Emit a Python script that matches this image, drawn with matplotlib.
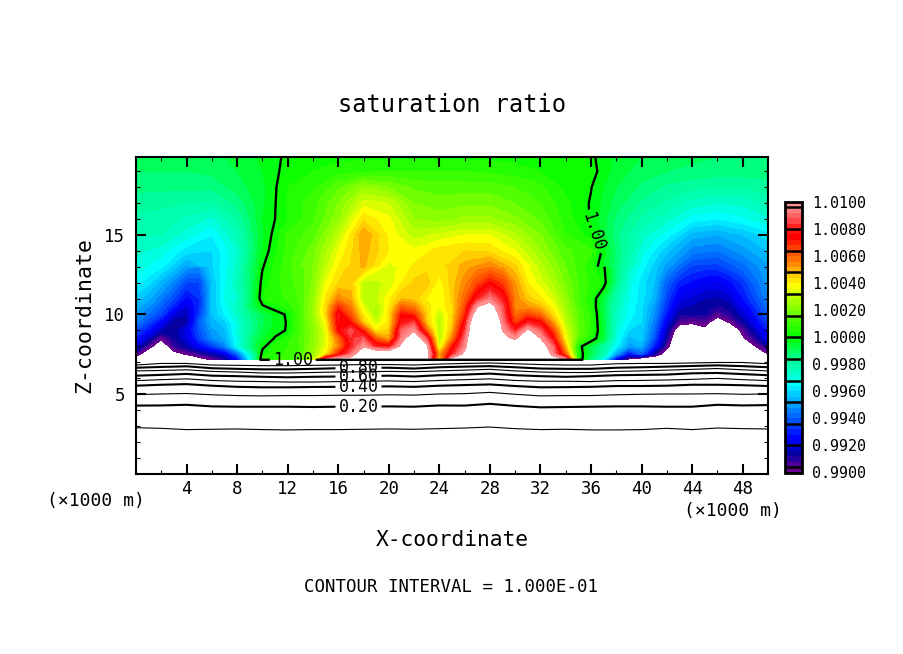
import matplotlib
matplotlib.use('Agg')
import matplotlib.pyplot as plt
from matplotlib.colors import LinearSegmentedColormap
import numpy as np

plt.rcParams['font.family'] = ['DejaVu Sans Mono', 'DejaVu Sans']

W, H = 904, 654

# saturation ratio deviation from 1, in units of 1e-3
# lower part of the domain, one column per km (x = 0..50)
x_low = np.arange(0, 51, 1)
z_low = [7.15, 7.5, 8, 8.5, 9, 9.5, 10, 10.5, 11, 12, 13]
row_7_15 = [-11, -12, -12, -12, -12, -10.5, -9.9, -9, -7.5, -3.5, .7, .8, 1, 1.5, 3, 9.5, 11, 11, 11, 11, 11, 11, 11, 11, 4, 11, 11, 11, 11, 11, 11, 11, 11, 11, 10, .7, -1.5, -3.5, -8, -10.5, -12, -12, -12, -12, -12, -12, -12, -12, -12, -12, -12]
row_7_5 = [-9.5, -11, -13, -10.5, -9.9, -9.3, -8.7, -8, -6, -3, .3, .6, .9, 1.3, 2.5, 4, 7, 9, 12, 12, 12, 12, 12, 11, 5, 8, 10.5, 13, 14, 14, 14, 14, 12, 9.5, 6, .5, -.9, -2.2, -5, -7.5, -6, -8.8, -11, -13, -13, -13, -13, -13, -13, -12, -10]
row_8 = [-8, -9.5, -11, -9.2, -8.5, -7.5, -6.6, -5.5, -3.3, -1.5, -.2, .6, .8, 1.2, 2.3, 3.5, 5.5, 8, 9.8, 8, 7.5, 10.5, 12, 10.5, 3.2, 7, 9.5, 13, 14, 12, 12, 12, 11, 9, 4.7, .3, -.8, -2, -3.5, -5, -4.7, -7, -9.6, -12, -13, -13, -14, -14, -13, -10, -8.8]
row_8_5 = [-7, -8.3, -9.8, -8.8, -8, -6.5, -5.3, -4.7, -3.2, -1.6, -.5, .05, .6, 1.3, 2.2, 3.4, 5.8, 8.3, 8.8, 6, 5, 9.3, 11.5, 8.5, 2.8, 5.5, 9, 13, 14, 10.5, 9.7, 12, 10, 7.5, 3.8, 1.5, .5, -.7, -3, -4.6, -4.2, -6.2, -8.8, -12, -13, -13, -14, -13, -10.2, -9, -7.5]
row_9 = [-6.3, -7.3, -8.4, -8.7, -7.8, -6.2, -5, -4.5, -3, -1.8, -.8, -.2, .05, 1.2, 2.2, 3.5, 7.3, 8.8, 6.8, 4, 4.5, 9, 9.8, 6, 2.8, 4.8, 8.3, 13, 14, 9.9, 8, 10.3, 8.8, 6.5, 3.4, 1.7, .7, -.6, -2.9, -4, -4.1, -5.8, -8.4, -11, -11, -10.3, -12, -11.5, -9.6, -8.3, -7]
row_9_5 = [-5.5, -6.4, -7.5, -8.7, -8.6, -6, -4.6, -4.2, -3, -1.8, -.9, -.3, .05, 1.2, 2.3, 3.8, 7.6, 7.2, 4.6, 3.2, 4.2, 7.8, 8.5, 4.6, 2.9, 4.5, 7.6, 13, 14, 9.3, 6.5, 8, 7.5, 5.2, 3, 1.6, .7, -.7, -2.7, -3.6, -4, -5.5, -7.8, -9.6, -9.8, -9.6, -10.7, -9.9, -8.8, -7.6, -6.5]
row_10 = [-5, -5.7, -6.5, -8, -8.4, -6.6, -4.4, -3.6, -2.7, -1.7, -.9, -.3, .1, 1.2, 2.4, 4.3, 7.8, 6.2, 4, 2.6, 4.2, 7.3, 6.8, 4.5, 3, 4.4, 6.8, 11.5, 12, 9, 5.8, 6.5, 5.8, 4.3, 2.7, 1.5, .7, -.8, -2.6, -3.4, -3.9, -5.2, -7.2, -8.8, -8.8, -8.8, -9.6, -9, -8.2, -7.1, -6]
row_10_5 = [-4.6, -5.2, -6, -7, -8, -6.8, -4.4, -3.4, -2.5, -1.2, -.1, .3, .6, 1.2, 2.4, 4.3, 6.8, 5.6, 3.4, 2.7, 4, 6, 5.5, 4.2, 3.6, 4.4, 6.3, 9.9, 10.8, 8.7, 5.4, 5.2, 4.8, 3.8, 2.5, 1.3, .55, -.9, -2.4, -3.3, -3.9, -5, -6.8, -8.2, -8.5, -8.6, -8.9, -8.6, -7.7, -6.7, -5.7]
row_11 = [-4.2, -4.7, -5.5, -6.4, -7.4, -6.8, -4.4, -3.2, -2.8, -1.3, .4, .6, .9, 1.3, 2.3, 4.1, 5.5, 5, 3, 3.1, 3.9, 4.8, 4.6, 4, 3.6, 4.5, 6, 8, 9.3, 8, 5.5, 4.6, 4.1, 3.4, 2.3, 1.2, .45, -.7, -2.2, -3.2, -3.8, -4.6, -6.5, -7.8, -8.1, -8.4, -8.5, -8.2, -7.2, -6.3, -5.3]
row_12 = [-3.4, -3.9, -4.6, -5.4, -6.4, -6.4, -4.4, -3.3, -2.5, -1.3, .2, .6, 1.1, 1.3, 2.1, 3.6, 4.4, 4.6, 3, 3.1, 3.3, 4, 4.5, 4.6, 3.8, 4.6, 5.4, 6.4, 7.3, 6.6, 5.2, 4, 3.4, 2.7, 1.9, 1.2, .7, .3, -1.5, -3, -3.8, -4.4, -6, -7, -7.3, -7.6, -7.7, -7.3, -6.7, -5.8, -5]
row_13 = [-3, -3.2, -3.5, -4.2, -5, -5.2, -4.1, -3.3, -2.7, -1.2, -.05, .5, 1.1, 1.4, 2, 3, 4, 4.6, 4.9, 3.8, 3.4, 3.7, 4.1, 4.3, 4.2, 4.5, 5, 5.4, 5.6, 5.2, 4.5, 3.6, 3, 2.3, 1.6, 1, .5, .1, -1.4, -2.6, -3.4, -4.2, -5, -5.8, -6.5, -6.6, -6.6, -6.2, -5.8, -5.3, -4.9]

# upper part, one column per 2 km
x_up = np.arange(0, 51, 2)
z_up = [13, 14, 15, 16, 17, 18, 19, 19.9]
row_14 = [-2.7, -3, -3.8, -4, -2.8, -.3, .9, 1.8, 3.6, 5, 4, 3.7, 4.2, 4.4, 4.3, 3.6, 2.4, 1.3, .9, -1.3, -3, -4.3, -5.4, -5.6, -5, -4.4]
row_15 = [-2.4, -2.4, -3, -3.6, -2.4, -.5, .9, 1.4, 3, 5.2, 3.9, 3, 3.3, 3.6, 3.6, 2.9, 2, .8, .2, -1.5, -2.6, -3.4, -4.6, -4.8, -4.4, -3.8]
row_16 = [-2.1, -2.2, -2.5, -2.9, -2, -.4, .4, 1.1, 2.3, 4.3, 3.7, 2.4, 2.2, 2.5, 2.5, 2.1, 1.5, .6, -.05, -1.3, -2.1, -2.7, -3.4, -3.6, -3.3, -2.9]
row_17 = [-1.8, -1.9, -2, -2.1, -1.5, -.5, .45, 1, 2, 3.4, 3.2, 2, 1.8, 1.9, 1.9, 1.6, 1.2, .5, -.05, -1, -1.7, -2.1, -2.6, -2.8, -2.7, -2.3]
row_18 = [-1.5, -1.5, -1.5, -1.5, -1, -.5, .4, .7, 1.5, 2.4, 2, 1.5, 1.4, 1.4, 1.4, 1.2, .9, .3, .02, -.8, -1.3, -1.7, -1.9, -2, -2, -1.8]
row_19 = [-1.2, -1.2, -1.2, -1.1, -.8, -.4, .2, .4, .6, .7, .8, .8, .8, .8, .7, .6, .4, .3, .2, -.6, -1, -1.2, -1.3, -1.4, -1.4, -1.4]
row_top = [-1, -1, -1, -.9, -.7, -.3, .1, .2, .3, .3, .3, .3, .3, .3, .3, .25, .2, .15, .1, -.5, -.8, -1, -1.1, -1.2, -1.2, -1.2]

# height (x1000 m) of the dry layer contours, every 2 km
h_10 = [2.88, 2.84, 2.76, 2.78, 2.80, 2.76, 2.74, 2.76, 2.76, 2.78, 2.80, 2.78, 2.82, 2.86, 2.92, 2.82, 2.76, 2.78, 2.74, 2.74, 2.76, 2.84, 2.76, 2.86, 2.82, 2.80]
h_20 = [4.27, 4.28, 4.32, 4.22, 4.2, 4.2, 4.2, 4.18, 4.2, 4.2, 4.22, 4.2, 4.28, 4.27, 4.38, 4.25, 4.16, 4.18, 4.2, 4.22, 4.22, 4.2, 4.2, 4.32, 4.28, 4.3]
h_30 = [4.96, 5.0, 5.03, 4.95, 4.9, 4.88, 4.9, 4.9, 4.92, 4.92, 4.95, 4.93, 5.0, 5.02, 5.1, 4.98, 4.88, 4.9, 4.9, 4.95, 4.98, 5.0, 5.0, 5.02, 4.98, 5.0]
h_40 = [5.52, 5.58, 5.62, 5.52, 5.45, 5.42, 5.42, 5.44, 5.45, 5.45, 5.48, 5.45, 5.52, 5.56, 5.6, 5.5, 5.42, 5.43, 5.45, 5.5, 5.5, 5.52, 5.58, 5.58, 5.55, 5.5]
h_50 = [5.84, 5.9, 5.95, 5.85, 5.8, 5.78, 5.75, 5.75, 5.78, 5.8, 5.82, 5.78, 5.85, 5.9, 5.95, 5.85, 5.8, 5.8, 5.78, 5.84, 5.85, 5.88, 5.92, 5.98, 5.9, 5.84]
h_60 = [6.15, 6.2, 6.26, 6.15, 6.12, 6.08, 6.05, 6.08, 6.1, 6.12, 6.15, 6.1, 6.18, 6.22, 6.28, 6.18, 6.12, 6.08, 6.12, 6.18, 6.2, 6.22, 6.3, 6.32, 6.25, 6.18]
h_70 = [6.45, 6.48, 6.52, 6.42, 6.38, 6.32, 6.32, 6.35, 6.38, 6.4, 6.42, 6.4, 6.45, 6.5, 6.55, 6.45, 6.38, 6.35, 6.35, 6.42, 6.45, 6.5, 6.55, 6.6, 6.52, 6.45]
h_80 = [6.65, 6.7, 6.74, 6.62, 6.58, 6.55, 6.55, 6.58, 6.62, 6.65, 6.65, 6.6, 6.68, 6.72, 6.75, 6.68, 6.6, 6.58, 6.58, 6.65, 6.68, 6.72, 6.76, 6.8, 6.75, 6.68]
h_90 = [6.82, 6.92, 6.92, 6.82, 6.8, 6.78, 6.78, 6.8, 6.82, 6.85, 6.85, 6.82, 6.88, 6.92, 6.95, 6.9, 6.85, 6.82, 6.82, 6.9, 6.92, 6.92, 6.95, 6.98, 6.98, 6.9]

# colour table, value (x1e-3) and colour
cmap_vals = [-10, -9.6, -9.2, -8.6, -8, -7.4, -6.4, -5.2, -4.4, -3.4, -2.6, -1.6, 0, 1.6, 3.2, 3.8, 4.8, 5.6, 6.6, 7.4, 8.2, 8.8, 9.5, 10]
cmap_cols = ['#700090', '#600090', '#3000a0', '#0000a0', '#0000e0', '#0000ff', '#0048ff', '#0090ff', '#00c0ff', '#00ffff', '#00ffc0', '#00ff90', '#00ff00', '#60ff00', '#c8ff00', '#ffff00', '#ffc000', '#ff8000', '#ff4000', '#ff0000', '#ff2020', '#ff5050', '#ff8080', '#ff9898']

cmap = LinearSegmentedColormap.from_list('sat', [((v + 10) / 20, c) for v, c in zip(cmap_vals, cmap_cols)])
levels = 0.99 + 0.0004 * np.arange(51)
colors = [cmap((i + 0.5) / 50) for i in range(50)]

low = np.array([row_7_15, row_7_5, row_8, row_8_5, row_9, row_9_5, row_10, row_10_5, row_11, row_12, row_13])
up = np.array([row_13[::2], row_14, row_15, row_16, row_17, row_18, row_19, row_top])

# a row right under the ground level closes the 1.00 contour
s_low = 1 + np.vstack([np.full(51, -100.0), low]) / 1000
z_low2 = [7.14] + z_low
s_up = 1 + up / 1000

fig = plt.figure(figsize=(W / 100, H / 100), dpi=100)
ax = fig.add_axes([136 / W, 1 - 473.5 / H, 632 / W, 316.5 / H])

ax.contourf(x_low, z_low2, s_low, levels=levels, colors=colors)
cf = ax.contourf(x_up, z_up, s_up, levels=levels, colors=colors)

# contours of the lower layer, on a grid that follows the read heights
h_all = np.array([np.zeros(26), h_10, h_20, h_30, h_40, h_50, h_60, h_70, h_80, h_90, np.full(26, 7.14)])
s_all = np.outer([0, .1, .2, .3, .4, .5, .6, .7, .8, .9, 1.0], np.ones(26))
x_all = np.outer(np.ones(11), x_up)
thin = ax.contour(x_all, h_all, s_all, levels=[.1, .3, .5, .7, .9], colors='k', linewidths=0.8)
thick = ax.contour(x_all, h_all, s_all, levels=[.2, .4, .6, .8], colors='k', linewidths=1.5)
ax.clabel(thick, fmt='%.2f', fontsize=12, colors='k', inline=True, inline_spacing=3,
          manual=[(17.6, 4.2), (17.6, 5.45), (17.6, 6.12), (17.6, 6.65)])

one_low = ax.contour(x_low, z_low2, s_low, levels=[1.0], colors='k', linewidths=1.7)
one_up = ax.contour(x_up, z_up, s_up, levels=[1.0], colors='k', linewidths=1.7)
ax.clabel(one_low, fmt='%.2f', fontsize=12, colors='k', inline=True, inline_spacing=3, manual=[(12.4, 7.15)])
ax.clabel(one_up, fmt='%.2f', fontsize=12, colors='k', inline=True, inline_spacing=3, manual=[(36.2, 15.2)])

ax.set_xlim(0, 50)
ax.set_ylim(0, 19.9)
ax.set_xticks(np.arange(4, 49, 4))
ax.set_xticks(np.arange(2, 50, 4), minor=True)
ax.set_yticks([5, 10, 15])
ax.set_yticks([y for y in range(1, 20) if y % 5 != 0], minor=True)
ax.tick_params(which='major', direction='in', length=7, width=1.5, top=True, right=True, labelsize=12.5)
ax.tick_params(which='minor', direction='in', length=3, width=0.8, top=True, right=True)
ax.tick_params(axis='x', which='major', pad=5)
ax.tick_params(axis='y', which='major', pad=8)
for s in ax.spines.values():
    s.set_linewidth(1.5)

# colour bar with black lines every 0.0016
cax = fig.add_axes([785 / W, 1 - 472.5 / H, 17 / W, 270.5 / H])
cb = fig.colorbar(cf, cax=cax, ticks=np.arange(0.99, 1.0101, 0.002), format='%.4f')
cb.ax.tick_params(length=0, labelsize=10.8, pad=7)
cb.outline.set_linewidth(2)
cax.hlines(0.9904 + 0.0016 * np.arange(13), 0, 1, colors='k', linewidth=1.8)

fig.text(452 / W, 1 - 105 / H, 'saturation ratio', ha='center', va='center', fontsize=17)
fig.text(452 / W, 1 - 540 / H, 'X-coordinate', ha='center', va='center', fontsize=15.3)
fig.text(84 / W, 1 - 315 / H, 'Z-coordinate', ha='center', va='center', rotation=90, fontsize=15.5)
fig.text(95.5 / W, 1 - 501 / H, '(×1000 m)', ha='center', va='center', fontsize=13)
fig.text(732.5 / W, 1 - 511 / H, '(×1000 m)', ha='center', va='center', fontsize=13)
fig.text(451 / W, 1 - 587 / H, 'CONTOUR INTERVAL = 1.000E-01', ha='center', va='center', fontsize=12.5)

fig.savefig('out.png', dpi=100)
